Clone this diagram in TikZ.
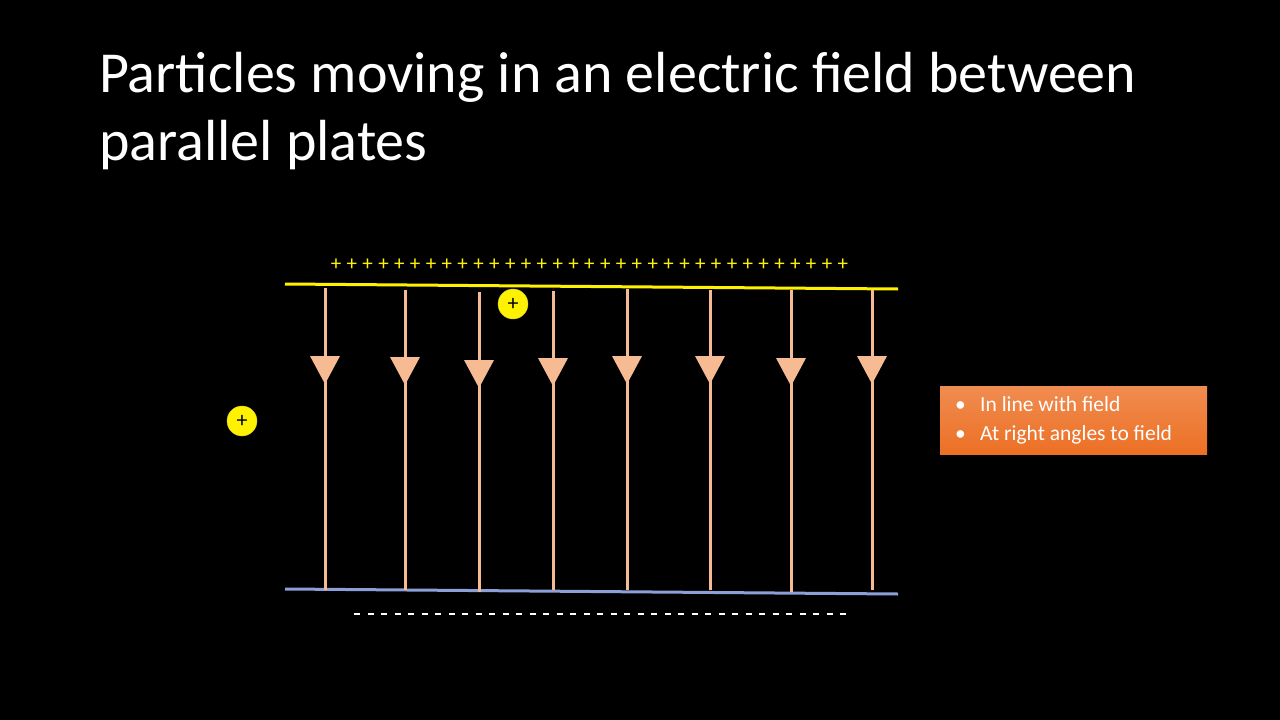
\documentclass[tikz,border=0pt]{standalone}
\usepackage{fontspec}
\setmainfont{Carlito}
\begin{document}
\begin{tikzpicture}[x=1pt,y=-1pt,
  fieldline/.style={draw=fieldc,line width=3pt},
  charge/.style={circle,fill=yellow,draw=yellow!80!black,inner sep=0pt,minimum width=26pt,minimum height=30pt,font=\fontsize{22}{22}\selectfont}]
\definecolor{fieldc}{RGB}{246,187,146}
\definecolor{plateb}{RGB}{140,160,215}
\definecolor{boxt}{RGB}{240,140,80}
\definecolor{boxb}{RGB}{236,112,36}
\fill[black] (0,0) rectangle (1280,720);
\useasboundingbox (0,0) rectangle (1280,720);
\node[anchor=north west,white,align=left,font=\fontsize{58}{68}\selectfont,inner sep=0pt] (title) at (99,52) {Particles moving in an electric field between\\parallel plates};
% plates
\draw[yellow,line width=3pt] (285,284) -- (898,289);
\draw[plateb,line width=3pt] (285,589) -- (898,594);
% field lines
\foreach \x/\t/\h/\b in {325/288/356/590, 405/290/357/590, 479/292/360/592, 553/291/358/590, 627/289/356/590, 710/290/356/590, 791/290/358/592, 872/290/356/590}{
  \draw[fieldline] (\x,\t) -- (\x,\b);
  \fill[fieldc] (\x-15,\h) -- (\x+15,\h) -- (\x,\h+28) -- cycle;
}
% plus and minus rows
\foreach \i in {0,...,32}{
  \node[yellow,font=\fontsize{21}{21}\selectfont,inner sep=0pt] (p\i) at (336+\i*15.84,265) {+};
}
\foreach \i in {0,...,36}{
  \draw[white,line width=1.2pt] (354+\i*13.5,614) -- (360+\i*13.5,614);
}
% charges
\node[charge] (q1) at (513,304) {+};
\node[charge] (q2) at (242,421) {+};
% box
\shade[top color=boxt,bottom color=boxb] (940,386) rectangle (1207,454);
\node[anchor=west,white,align=left,font=\fontsize{21.5}{29}\selectfont,inner sep=0pt] (list) at (950,420)
 {\makebox[30pt][l]{\ \textbullet}In line with field\\\makebox[30pt][l]{\ \textbullet}At right angles to field};
\end{tikzpicture}
\end{document}
